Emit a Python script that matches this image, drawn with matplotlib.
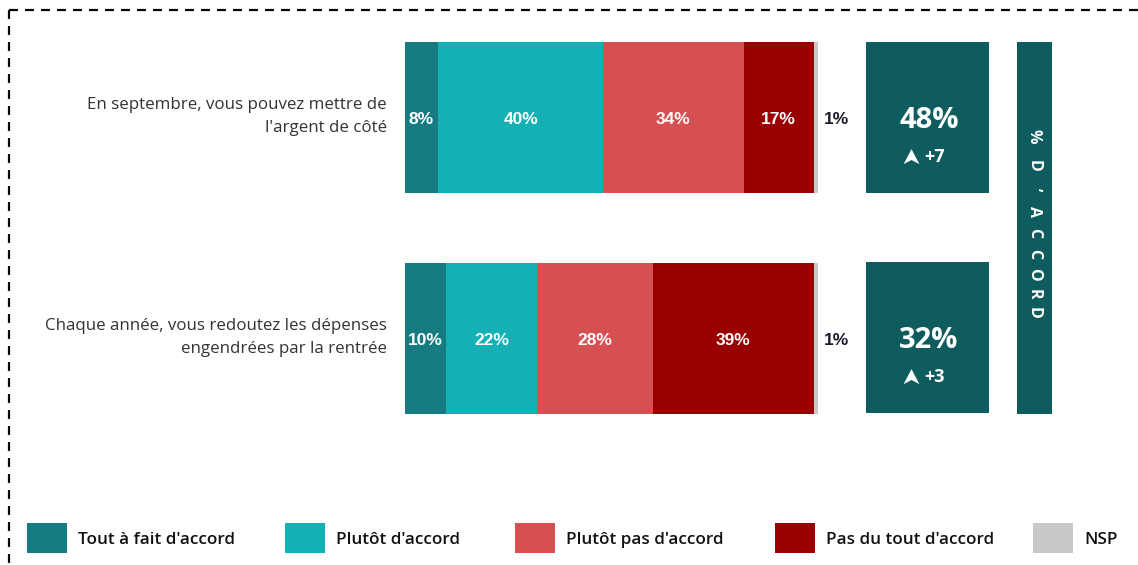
import numpy as np
import matplotlib.pyplot as plt
from matplotlib.patches import Rectangle

# Données
questions = ["En septembre, vous pouvez mettre de\nl'argent de côté",
             "Chaque année, vous redoutez les dépenses\nengendrées par la rentrée"]
categories = ["Tout à fait d'accord", "Plutôt d'accord", "Plutôt pas d'accord",
              "Pas du tout d'accord", "NSP"]
tout_a_fait = [8, 10]
plutot = [40, 22]
plutot_pas = [34, 28]
pas_du_tout = [17, 39]
nsp = [1, 1]
total_accord = [48, 32]
evolution = ["+7", "+3"]

couleurs = ["#167C82", "#14B0B5", "#D64F51", "#990000", "#C8C8C8"]
box_color = "#0E5C5E"
W, H = 1138, 565

fig = plt.figure(figsize=(W / 100, H / 100), dpi=100)

# Toile en pixels pour le décor
bg = fig.add_axes([0, 0, 1, 1])
bg.set_xlim(0, W)
bg.set_ylim(H, 0)
bg.axis('off')
bg.plot([9, W], [10, 10], color='black', lw=1.6, ls=(0, (4, 3.2)))
bg.plot([9, 9], [10, H], color='black', lw=1.6, ls=(0, (4, 3.2)))

# Barres empilées
x0, px100 = 405, 413
ax = fig.add_axes([x0 / W, (H - 414) / H, px100 / W, 372 / H])
ax.set_xlim(0, 100)
ax.set_ylim(-0.343, 1.343)
ax.axis('off')
ypos = np.array([1, 0])
series = [tout_a_fait, plutot, plutot_pas, pas_du_tout, nsp]
left = np.zeros(2)
for i, vals in enumerate(series):
    vals = np.array(vals)
    ax.barh(ypos, vals, left=left, height=0.686, color=couleurs[i], linewidth=0)
    for y, l, v in zip(ypos, left, vals):
        if i < 4:
            ax.text(l + v / 2, y - 0.008, f"{v}%", ha='center', va='center', color='white',
                    fontsize=12.5, fontweight='bold', family='Liberation Sans')
        else:
            ax.text(104.5, y - 0.008, f"{v}%", ha='center', va='center', color='#1a1a2a',
                    fontsize=12.5, fontweight='bold', family='Liberation Sans')
    left += vals

# Libellés des questions
for y, q in zip(ypos, questions):
    ax.text(-4.4, y + 0.005, q, ha='right', va='center', fontsize=12.2, color='#333333',
            family='Open Sans', linespacing=1.6)

# Encadrés % d'accord
rows_px = [(42, 193), (262, 413)]
arrow = [(0, 1), (0.95, -0.8), (0, -0.3), (-0.95, -0.8)]
for (t, b), tot, ev in zip(rows_px, total_accord, evolution):
    bg.add_patch(Rectangle((866, t), 123, b - t, color=box_color, lw=0))
    cx = 929
    bg.text(cx, t + 79, f"{tot}%", ha='center', va='center', color='white',
            fontsize=21, fontweight='bold', family='Open Sans')
    bg.plot(cx - 18, t + 115, marker=arrow, ms=12, color='white', mew=0)
    bg.text(cx - 5, t + 115, ev, ha='left', va='center', color='white',
            fontsize=13, fontweight='bold', family='Open Sans')

# Bandeau vertical
bg.add_patch(Rectangle((1017, 42), 35, 372, color=box_color, lw=0))
lettres = ['%', 'D', '’', 'A', 'C', 'C', 'O', 'R', 'D']
ys = [136, 166, 190, 212, 233, 254, 274, 294, 313]
for ch, y in zip(lettres, ys):
    bg.text(1034, y, ch, rotation=270, ha='center', va='center', color='white',
            fontsize=11.5, fontweight='bold', family='Open Sans')

# Légende
leg_x = [27, 285, 515, 775, 1033]
for cx, c, lab in zip(leg_x, couleurs, categories):
    bg.add_patch(Rectangle((cx, 523), 40, 30, color=c, lw=0))
    bg.text(cx + 51, 540, lab, ha='left', va='center', fontsize=12.3,
            fontweight='semibold', family='Open Sans', color='#111111')

fig.savefig('out.png', dpi=100)
